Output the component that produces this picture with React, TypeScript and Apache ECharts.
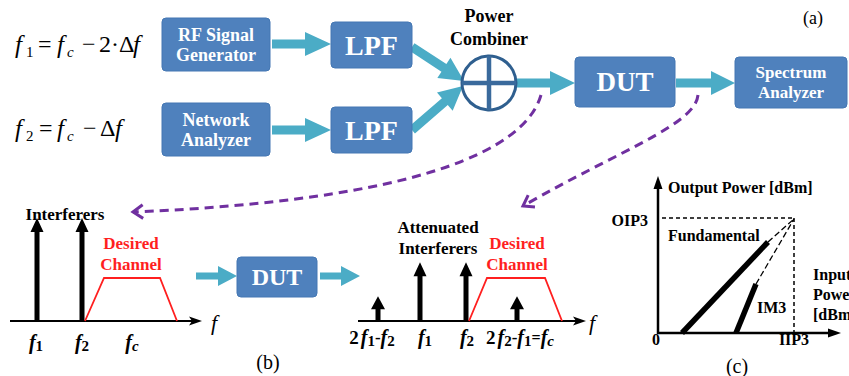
import React, { useEffect, useRef } from 'react';
import * as echarts from 'echarts';

const W = 849;
const H = 376;
const FAMILY = 'Liberation Serif';
const BLUE = '#4f81bd';
const TEAL = '#4bacc6';
const PURPLE = '#7030a0';
const RED = '#ff1f1f';

// Text content
const blockLabels = ['RF Signal\nGenerator', 'Network\nAnalyzer', 'LPF', 'LPF', 'DUT', 'Spectrum\nAnalyzer', 'DUT'];
const combinerLabel = ['Power', 'Combiner'];
const panelLabels = ['(a)', '(b)', '(c)'];
const inputSpectrumTitle = 'Interferers';
const outputSpectrumTitle = 'Attenuated\nInterferers';
const channelLabel = 'Desired\nChannel';
const ip3Labels = ['Output Power [dBm]', 'OIP3', 'Fundamental', 'IM3', 'Input\nPower\n[dBm]', '0', 'IIP3'];

// Relative tone amplitudes (1 = full interferer, 0.24 = intermod product)
const inputToneAmps = [1, 1];
const outputToneAmps = [0.24, 0.57, 0.57, 0.24];

const mctx = document.createElement('canvas').getContext('2d') as CanvasRenderingContext2D;
type Piece = { t: string; size: number; italic?: boolean; bold?: boolean; dy?: number; gap?: number; fill?: string; x?: number };
function fontStr(p: Piece) {
  return `${p.italic ? 'italic ' : ''}${p.bold ? 'bold ' : ''}${p.size}px "${FAMILY}"`;
}
function pw(p: Piece) {
  mctx.font = fontStr(p);
  return mctx.measureText(p.t).width;
}
function pieceEl(p: Piece, x: number, y: number) {
  return {
    type: 'text',
    x,
    y: y + (p.dy || 0),
    silent: true,
    style: {
      text: p.t,
      fontSize: p.size,
      fontFamily: FAMILY,
      fontStyle: p.italic ? 'italic' : 'normal',
      fontWeight: p.bold ? 'bold' : 'normal',
      fill: p.fill || '#000',
      align: 'left',
      verticalAlign: 'middle',
    },
  };
}
function seq(x: number, y: number, pieces: Piece[], align: 'left' | 'center' | 'right' = 'left') {
  const widths = pieces.map((p) => pw(p) + (p.gap || 0));
  const total = widths.reduce((a, b) => a + b, 0);
  let cur = align === 'left' ? x : align === 'center' ? x - total / 2 : x - total;
  const out: any[] = [];
  pieces.forEach((p, i) => {
    out.push(pieceEl(p, cur, y));
    cur += widths[i];
  });
  return out;
}
function placed(y: number, pieces: Piece[]) {
  return pieces.map((p) => pieceEl(p, p.x || 0, y));
}
function txt(x: number, y: number, t: string, size: number, opts: any = {}) {
  return {
    type: 'text',
    x,
    y,
    silent: true,
    style: {
      text: t,
      fontSize: size,
      fontFamily: FAMILY,
      fontWeight: opts.bold === false ? 'normal' : 'bold',
      fontStyle: opts.italic ? 'italic' : 'normal',
      fill: opts.fill || '#000',
      align: opts.align || 'center',
      verticalAlign: 'middle',
      lineHeight: opts.lineHeight,
    },
  };
}
function arrowPts(x1: number, y1: number, x2: number, y2: number, sw: number, hw: number, hl: number) {
  const dx = x2 - x1, dy = y2 - y1;
  const L = Math.hypot(dx, dy);
  const ux = dx / L, uy = dy / L;
  const nx = -uy, ny = ux;
  const bx = x2 - ux * hl, by = y2 - uy * hl;
  return [
    [x1 + nx * sw / 2, y1 + ny * sw / 2],
    [bx + nx * sw / 2, by + ny * sw / 2],
    [bx + nx * hw / 2, by + ny * hw / 2],
    [x2, y2],
    [bx - nx * hw / 2, by - ny * hw / 2],
    [bx - nx * sw / 2, by - ny * sw / 2],
    [x1 - nx * sw / 2, y1 - ny * sw / 2],
  ];
}
function arrow(x1: number, y1: number, x2: number, y2: number, sw: number, hw: number, hl: number, fill: string) {
  return { type: 'polygon', silent: true, shape: { points: arrowPts(x1, y1, x2, y2, sw, hw, hl) }, style: { fill } };
}
function line(x1: number, y1: number, x2: number, y2: number, stroke: string, lineWidth: number, lineDash?: number[]) {
  return { type: 'line', silent: true, shape: { x1, y1, x2, y2 }, style: { stroke, lineWidth, lineDash, lineCap: 'butt' } };
}
function block(x: number, y: number, w: number, h: number, label: string, size: number, lh: number) {
  return [
    { type: 'rect', silent: true, shape: { x, y, width: w, height: h, r: 4 }, style: { fill: BLUE, stroke: '#4477b3', lineWidth: 1 } },
    txt(x + w / 2, y + h / 2, label, size, { fill: '#fff', lineHeight: lh }),
  ];
}
function dashedCurve(p0: number[], c1: number[], c2: number[], p3: number[]) {
  const ang = Math.atan2(p3[1] - c2[1], p3[0] - c2[0]);
  const len = 12, spread = 0.6;
  const a1 = [p3[0] - len * Math.cos(ang - spread), p3[1] - len * Math.sin(ang - spread)];
  const a2 = [p3[0] - len * Math.cos(ang + spread), p3[1] - len * Math.sin(ang + spread)];
  return [
    {
      type: 'bezierCurve', silent: true,
      shape: { x1: p0[0], y1: p0[1], cpx1: c1[0], cpy1: c1[1], cpx2: c2[0], cpy2: c2[1], x2: p3[0], y2: p3[1] },
      style: { stroke: PURPLE, lineWidth: 3, lineDash: [9, 6], fill: null },
    },
    { type: 'polyline', silent: true, shape: { points: [a1, p3, a2] }, style: { stroke: PURPLE, lineWidth: 3, fill: null } },
  ];
}
function freqAxis(x1: number, x2: number, y: number) {
  return [
    line(x1, y, x2 - 8, y, '#000', 2),
    { type: 'polygon', silent: true, shape: { points: [[x2, y], [x2 - 13, y - 4.5], [x2 - 10, y], [x2 - 13, y + 4.5]] }, style: { fill: '#000' } },
  ];
}
function tone(x: number, base: number, fullHeight: number, amp: number) {
  const big = amp > 0.5;
  return arrow(x, base, x, base - fullHeight * amp, 5, big ? 13 : 14, big ? 14 : 13, '#000');
}
function trapezoid(pts: number[][]) {
  return { type: 'polyline', silent: true, shape: { points: pts }, style: { stroke: RED, lineWidth: 1.8, fill: null } };
}

function buildElements() {
  const els: any[] = [];
  // Equations
  els.push(
    ...placed(44, [
      { t: 'f', size: 25, italic: true, x: 15 },
      { t: '1', size: 15, dy: 8, x: 26 },
      { t: '=', size: 24, x: 38 },
      { t: 'f', size: 25, italic: true, x: 57 },
      { t: 'c', size: 15, italic: true, dy: 8, x: 67 },
      { t: '−', size: 24, x: 82 },
      { t: '2·Δ', size: 24, x: 99 },
      { t: 'f', size: 25, italic: true, x: 133 },
    ])
  );
  els.push(
    ...placed(128, [
      { t: 'f', size: 25, italic: true, x: 15 },
      { t: '2', size: 15, dy: 8, x: 26 },
      { t: '=', size: 24, x: 39 },
      { t: 'f', size: 25, italic: true, x: 57 },
      { t: 'c', size: 15, italic: true, dy: 8, x: 67 },
      { t: '−', size: 24, x: 83 },
      { t: 'Δ', size: 24, x: 100 },
      { t: 'f', size: 25, italic: true, x: 115 },
    ])
  );

  // Teal arrows (top)
  els.push(arrow(272, 44, 331, 44, 9, 24, 26, TEAL));
  els.push(arrow(272, 130, 331, 130, 9, 24, 26, TEAL));
  els.push(arrow(412, 47, 464, 81, 9, 24, 24, TEAL));
  els.push(arrow(412, 130, 463, 86, 9, 24, 24, TEAL));
  els.push(arrow(516, 83, 575, 83, 9, 24, 25, TEAL));
  els.push(arrow(676, 83, 735, 83, 9, 24, 24, TEAL));

  // Blocks
  els.push(...block(162, 18, 108, 53, blockLabels[0], 18, 20));
  els.push(...block(162, 103, 108, 53, blockLabels[1], 18, 20));
  els.push(...block(331, 22, 81, 46, blockLabels[2], 28, 28));
  els.push(...block(331, 107, 81, 46, blockLabels[3], 28, 28));
  els.push(...block(575, 57, 100, 50, blockLabels[4], 27, 27));
  els.push(...block(735, 57, 112, 51, blockLabels[5], 17, 20));

  // Power combiner
  els.push({ type: 'circle', silent: true, shape: { cx: 489, cy: 83, r: 27 }, style: { fill: '#fff', stroke: '#2f5f8f', lineWidth: 3 } });
  els.push(line(489, 56, 489, 110, '#3a6a9c', 4.5));
  els.push(line(462, 83, 516, 83, '#3a6a9c', 4.5));
  els.push(txt(489, 16, combinerLabel[0], 18));
  els.push(txt(489, 39, combinerLabel[1], 18));

  els.push(txt(813, 18, panelLabels[0], 18, { bold: false }));

  // Purple dashed curves
  els.push(...dashedCurve([541, 95], [525, 150], [420, 200], [133, 212]));
  els.push(...dashedCurve([698, 95], [695, 125], [620, 150], [523, 206]));

  // Panel (b) - input spectrum
  els.push(...freqAxis(10, 202, 321));
  const inX = [37, 82];
  inputToneAmps.forEach((a, i) => els.push(tone(inX[i], 321, 103, a)));
  els.push(trapezoid([[85, 321], [104, 278], [160, 278], [177, 321]]));
  els.push(txt(65, 214, inputSpectrumTitle, 17));
  els.push(txt(131, 254, channelLabel, 17, { fill: RED, lineHeight: 21 }));
  els.push(...seq(214, 322, [{ t: 'f', size: 22, italic: true }], 'center'));
  els.push(...seq(36, 342, [{ t: 'f', size: 20, italic: true, bold: true }, { t: '1', size: 15, bold: true, dy: 4 }], 'center'));
  els.push(...seq(82, 342, [{ t: 'f', size: 20, italic: true, bold: true }, { t: '2', size: 15, bold: true, dy: 4 }], 'center'));
  els.push(...seq(132, 342, [{ t: 'f', size: 20, italic: true, bold: true }, { t: 'c', size: 15, italic: true, bold: true, dy: 4 }], 'center'));

  // middle DUT
  els.push(arrow(196, 276, 237, 276, 7, 20, 19, TEAL));
  els.push(...block(237, 257, 80, 40, blockLabels[6], 24, 24));
  els.push(arrow(320, 276, 360, 276, 7, 20, 19, TEAL));

  // Panel (b) - output spectrum
  els.push(...freqAxis(358, 586, 321));
  const outX = [378, 420, 466, 517];
  outputToneAmps.forEach((a, i) => els.push(tone(outX[i], 321, 103, a)));
  els.push(trapezoid([[469, 321], [487, 278], [545, 278], [562, 321]]));
  els.push(txt(438, 238, outputSpectrumTitle, 17, { lineHeight: 21 }));
  els.push(txt(517, 254, channelLabel, 17, { fill: RED, lineHeight: 21 }));
  els.push(...seq(592, 322, [{ t: 'f', size: 22, italic: true }], 'center'));
  const fB = (s: string): Piece => ({ t: 'f', size: 20, italic: true, bold: true });
  const sub = (s: string, it = false): Piece => ({ t: s, size: 15, bold: true, italic: it, dy: 4 });
  els.push(...seq(372, 337, [{ t: '2', size: 19, bold: true, gap: 2 }, fB('f'), sub('1'), { t: '-', size: 17, bold: true }, fB('f'), sub('2')], 'center'));
  els.push(...seq(425, 337, [fB('f'), sub('1')], 'center'));
  els.push(...seq(467, 337, [fB('f'), sub('2')], 'center'));
  els.push(...seq(520, 337, [{ t: '2', size: 19, bold: true, gap: 2 }, fB('f'), sub('2'), { t: '-', size: 17, bold: true }, fB('f'), sub('1'), { t: '=', size: 16, bold: true }, fB('f'), sub('c', true)], 'center'));

  els.push(txt(268, 362, panelLabels[1], 20, { bold: false }));

  // Panel (c) - IP3
  els.push(line(662, 218, 794, 218, '#000', 1.5, [4, 3]));
  els.push(line(794, 218, 794, 333, '#000', 1.5, [4, 3]));
  els.push(line(658, 334, 658, 186, '#000', 2.5));
  els.push({ type: 'polygon', silent: true, shape: { points: [[658, 176], [653.5, 189], [662.5, 189]] }, style: { fill: '#000' } });
  els.push(line(657, 333, 830, 333, '#000', 2.5));
  els.push({ type: 'polygon', silent: true, shape: { points: [[841, 333], [828, 328.5], [828, 337.5]] }, style: { fill: '#000' } });
  els.push(line(682, 333, 768, 242, '#000', 5.5));
  els.push(line(768, 242, 794, 219, '#000', 1.3, [6, 3]));
  els.push(line(736, 333, 756, 284, '#000', 5.5));
  els.push(line(756, 284, 794, 219, '#000', 1.3, [6, 3]));
  els.push(txt(668, 187, ip3Labels[0], 16, { align: 'left' }));
  els.push(txt(648, 220, ip3Labels[1], 16, { align: 'right' }));
  els.push(txt(668, 235, ip3Labels[2], 16, { align: 'left' }));
  els.push(txt(757, 307, ip3Labels[3], 16, { align: 'left' }));
  els.push(txt(813, 294, ip3Labels[4], 16, { align: 'left', lineHeight: 20 }));
  els.push(txt(656, 339, ip3Labels[5], 16));
  els.push(txt(794, 339, ip3Labels[6], 16));
  els.push(txt(737, 366, panelLabels[2], 20, { bold: false }));

  return els;
}

export default function App() {
  const ref = useRef<HTMLDivElement>(null);
  useEffect(() => {
    if (!ref.current) return;
    const chart = echarts.init(ref.current, undefined, { renderer: 'svg', width: W, height: H });
    chart.setOption({
      animation: false,
      backgroundColor: '#fff',
      graphic: { elements: buildElements() },
    });
    return () => chart.dispose();
  }, []);
  return <div ref={ref} style={{ position: 'fixed', left: 0, top: 0, width: W, height: H, background: '#fff' }} />;
}
